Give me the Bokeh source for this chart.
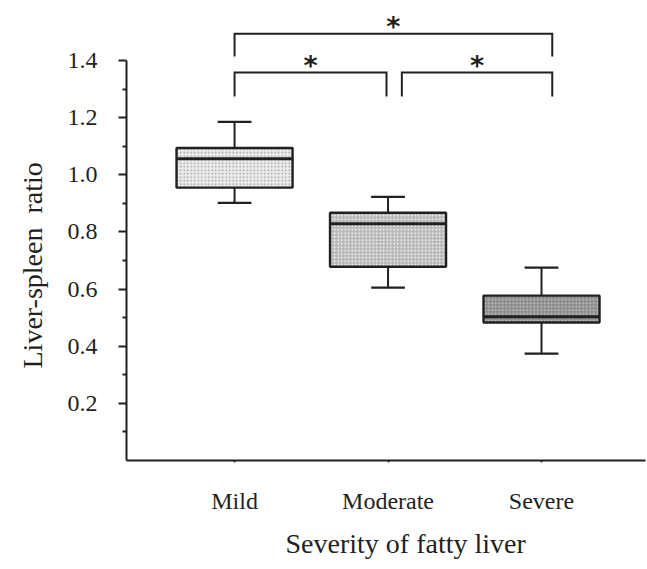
from bokeh.plotting import figure
from bokeh.models import Range1d, FixedTicker, NumeralTickFormatter, ColumnDataSource, Title
from bokeh.core.properties import value
from bokeh.embed import file_html
from bokeh.resources import INLINE

# ---------------- data ----------------
categories = ["Mild", "Moderate", "Severe"]
positions = [1, 2, 3]
lower_whisker = [0.902, 0.605, 0.374]
q1 = [0.955, 0.678, 0.483]
median = [1.056, 0.829, 0.503]
q3 = [1.094, 0.867, 0.577]
upper_whisker = [1.185, 0.923, 0.675]

y_ticks = [0.2, 0.4, 0.6, 0.8, 1.0, 1.2, 1.4]
y_minor_ticks = [0.1, 0.3, 0.5, 0.7, 0.9, 1.1, 1.3]

y_title = "Liver-spleen\u00a0 ratio"
x_title = "Severity of fatty liver"

# significance brackets (x positions on the category scale, y in ratio units)
bracket_left = [1.0, 1.0, 2.09]
bracket_right = [3.07, 1.99, 3.07]
bracket_top = [1.494, 1.358, 1.358]
bracket_drop = [1.414, 1.274, 1.274]
bracket_label = ["*", "*", "*"]

# ---------------- style ----------------
INK = "#231f20"
FONT = "Liberation Serif"
box_fill = ["#ececec", "#b8b8b8", "#8c8c8c"]
box_hatch = ["#a0a0a0", "#ffffff", "#cfcfcf"]
BOX_W = 0.756
CAP_W = 0.22

p = figure(width=647, height=569, output_backend="svg", toolbar_location=None,
           x_range=Range1d(0.296, 3.6775), y_range=Range1d(0, 1.61),
           min_border_left=126, min_border_right=2, min_border_top=0,
           min_border_bottom=109)
p.outline_line_color = None
p.xgrid.visible = False
p.ygrid.visible = False
p.background_fill_color = "white"
p.border_fill_color = "white"

src = ColumnDataSource(dict(
    x=positions, cat=categories, lo=lower_whisker, q1=q1, med=median,
    q3=q3, hi=upper_whisker, fill=box_fill, hatch=box_hatch,
    cl=[v - CAP_W / 2 for v in positions], cr=[v + CAP_W / 2 for v in positions],
    bl=[v - BOX_W / 2 for v in positions], br=[v + BOX_W / 2 for v in positions],
))

# whiskers
p.segment(x0="x", y0="q3", x1="x", y1="hi", source=src, line_color=INK, line_width=2)
p.segment(x0="x", y0="q1", x1="x", y1="lo", source=src, line_color=INK, line_width=2)
p.segment(x0="cl", y0="hi", x1="cr", y1="hi", source=src, line_color=INK, line_width=2.2)
p.segment(x0="cl", y0="lo", x1="cr", y1="lo", source=src, line_color=INK, line_width=2.2)
# boxes
p.quad(left="bl", right="br", bottom="q1", top="q3", source=src,
       fill_color="fill", line_color=INK, line_width=2.4,
       hatch_pattern="dot", hatch_color="hatch", hatch_scale=3.5, hatch_weight=1.2)
# medians
p.segment(x0="bl", y0="med", x1="br", y1="med", source=src, line_color=INK, line_width=3)

# brackets
bxs = [[l, l, r, r] for l, r in zip(bracket_left, bracket_right)]
bys = [[d, t, t, d] for t, d in zip(bracket_top, bracket_drop)]
p.multi_line(xs=bxs, ys=bys, line_color=INK, line_width=2, line_join="miter")
STAR_GAP = 0.026
p.text(x=[(l + r) / 2 for l, r in zip(bracket_left, bracket_right)],
       y=[t + STAR_GAP for t in bracket_top], text=bracket_label,
       text_font=value("DejaVu Sans"), text_font_style="bold",
       text_font_size="27px", text_color=INK,
       text_align="center", text_baseline="middle")

# y axis
ya = p.yaxis[0]
ya.bounds = (0, 1.4)
ya.ticker = FixedTicker(ticks=y_ticks, minor_ticks=y_minor_ticks)
ya.formatter = NumeralTickFormatter(format="0.0")
ya.axis_line_color = INK
ya.axis_line_width = 2
ya.major_tick_line_color = INK
ya.major_tick_line_width = 2
ya.major_tick_out = 8
ya.major_tick_in = 0
ya.minor_tick_line_color = INK
ya.minor_tick_line_width = 2
ya.minor_tick_out = 4
ya.minor_tick_in = 0
ya.major_label_text_font = FONT
ya.major_label_text_font_size = "24px"
ya.major_label_text_color = INK
ya.major_label_standoff = 21

# x axis
xa = p.xaxis[0]
xa.ticker = FixedTicker(ticks=positions, minor_ticks=[])
xa.major_label_overrides = {pos: c for pos, c in zip(positions, categories)}
xa.axis_line_color = INK
xa.axis_line_width = 2
xa.major_tick_line_color = INK
xa.major_tick_line_width = 1.5
xa.major_tick_out = 2
xa.major_tick_in = 0
xa.minor_tick_line_color = None
xa.major_label_text_font = FONT
xa.major_label_text_font_size = "24px"
xa.major_label_text_color = INK
xa.major_label_standoff = 25

# axis titles
p.add_layout(Title(text=y_title, align="left", offset=92, standoff=30,
                   vertical_align="top", text_line_height=0.8,
                   text_font=FONT, text_font_size="28px", text_font_style="normal",
                   text_color=INK), "left")
p.add_layout(Title(text=x_title, align="left", offset=159, standoff=19,
                   text_line_height=0.8,
                   text_font=FONT, text_font_size="28px", text_font_style="normal",
                   text_color=INK), "below")

open("out.html", "w").write(file_html(p, INLINE))
